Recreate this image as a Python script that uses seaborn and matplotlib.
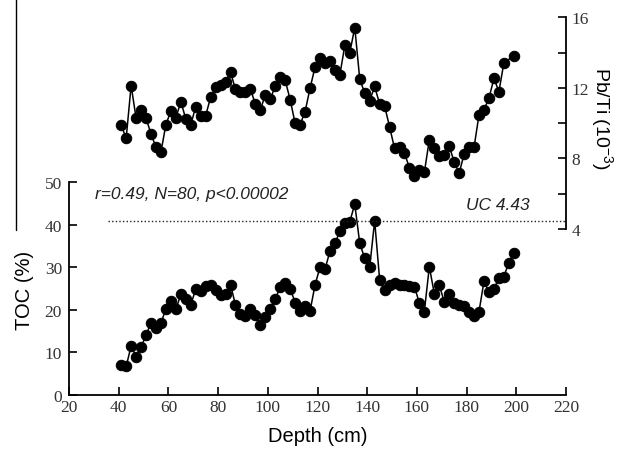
import matplotlib
matplotlib.use("Agg")
import matplotlib.pyplot as plt
from matplotlib.lines import Line2D
import seaborn as sns
import pandas as pd

# ---- data ----
depth_toc = [41, 43, 45, 47, 49, 51, 53, 55, 57, 59, 61, 63, 65, 67, 69, 71, 73, 75, 77, 79,
             81, 83, 85, 87, 89, 91, 93, 95, 97, 99, 101, 103, 105, 107, 109, 111, 113, 115, 117, 119,
             121, 123, 125, 127, 129, 131, 133, 135, 137, 139, 141, 143, 145, 147, 149, 151, 153, 155, 157, 159,
             161, 163, 165, 167, 169, 171, 173, 175, 177, 179, 181, 183, 185, 187, 189, 191, 193, 195, 197, 199]
toc = [7.1, 6.7, 11.5, 9.0, 11.3, 14.0, 17.0, 15.7, 16.8, 20.3, 22.0, 20.1, 23.6, 22.5, 21.2, 24.8, 24.5, 25.6, 25.8, 24.7,
       23.4, 23.8, 25.9, 21.1, 19.1, 18.5, 20.2, 18.8, 16.5, 18.4, 20.1, 22.5, 25.4, 26.3, 25.0, 21.7, 19.8, 21.0, 19.7, 25.8,
       30.0, 29.5, 33.7, 35.6, 38.4, 40.3, 40.7, 44.8, 35.6, 32.1, 30.0, 40.9, 27.1, 24.6, 25.8, 26.2, 25.9, 25.8, 25.7, 25.4,
       21.6, 19.6, 30.1, 23.8, 25.8, 21.9, 23.6, 21.6, 21.2, 20.8, 19.6, 18.5, 19.6, 26.7, 24.2, 24.8, 27.5, 27.8, 31.1, 33.3]

depth_pbti = [41, 43, 45, 47, 49, 51, 53, 55, 57, 59, 61, 63, 65, 67, 69, 71, 73, 75, 77, 79,
              81, 83, 85, 87, 89, 91, 93, 95, 97, 99, 101, 103, 105, 107, 109, 111, 113, 115, 117, 119,
              121, 123, 125, 127, 129, 131, 133, 135, 137, 139, 141, 143, 145, 147, 149, 151, 153, 155, 157, 159,
              161, 163, 165, 167, 169, 171, 173, 175, 177, 179, 181, 183, 185, 187, 189, 191, 193, 195, 199]
pbti = [9.90, 9.13, 12.13, 10.29, 10.77, 10.28, 9.39, 8.63, 8.37, 9.92, 10.69, 10.29, 11.22, 10.24, 9.90, 10.94, 10.42, 10.42, 11.48, 12.03,
        12.16, 12.36, 12.88, 11.92, 11.75, 11.75, 11.96, 11.06, 10.76, 11.60, 11.35, 12.12, 12.60, 12.43, 11.33, 9.99, 9.92, 10.65, 11.98, 13.17,
        13.72, 13.39, 13.51, 13.04, 12.74, 14.41, 14.00, 15.42, 12.50, 11.70, 11.27, 12.08, 11.09, 10.97, 9.80, 8.57, 8.63, 8.30, 7.47, 6.98,
        7.36, 7.21, 9.06, 8.61, 8.11, 8.18, 8.69, 7.82, 7.16, 8.25, 8.67, 8.63, 10.48, 10.76, 11.41, 12.54, 11.79, 13.41, 13.82]

uc_value = 4.43
x_ticks = [20, 40, 60, 80, 100, 120, 140, 160, 180, 200, 220]
toc_ticks = [0, 10, 20, 30, 40, 50]
pbti_ticks = [4, 8, 12, 16]
pbti_minor = [6, 10, 14]
stats_text = "r=0.49, N=80, p<0.00002"

# ---- style ----
sns.set_theme(style="ticks")
plt.rcParams['font.family'] = ['Liberation Sans', 'DejaVu Sans']
plt.rcParams['mathtext.fontset'] = 'custom'
plt.rcParams['mathtext.rm'] = 'Liberation Sans'
plt.rcParams['mathtext.it'] = 'Liberation Sans:italic'

W, H = 617, 452
fig = plt.figure(figsize=(W / 100, H / 100), dpi=100)
fig.patch.set_facecolor('white')

L, R = 69 / W, 566 / W
ax1 = fig.add_axes([L, (H - 396) / H, R - L, (396 - 183) / H])
ax2 = fig.add_axes([L, (H - 230) / H, R - L, (230 - 18.3) / H])
ax2.patch.set_alpha(0)

df_toc = pd.DataFrame({"Depth": depth_toc, "TOC": toc})
df_pb = pd.DataFrame({"Depth": depth_pbti, "PbTi": pbti})

line_kw = dict(color='black', marker='o', markersize=7.5, markeredgecolor='black',
               markerfacecolor='black', linewidth=1.1, estimator=None, sort=False)
sns.lineplot(data=df_toc, x="Depth", y="TOC", ax=ax1, **line_kw)
sns.lineplot(data=df_pb, x="Depth", y="PbTi", ax=ax2, **line_kw)

tick_font = dict(family=['Liberation Serif', 'DejaVu Serif'], size=12.5)
tick_color = '#333333'

# bottom axes
ax1.set_xlim(20, 220)
ax1.set_ylim(0, 50)
ax1.set_xticks(x_ticks)
ax1.set_yticks(toc_ticks)
ax1.set_xticklabels([str(v) for v in x_ticks], fontdict=tick_font, color=tick_color)
ax1.set_yticklabels([str(v) for v in toc_ticks], fontdict=tick_font, color=tick_color)
ax1.tick_params(axis='both', direction='in', length=6, width=1.2, color='black')
ax1.tick_params(axis='x', pad=3)
ax1.tick_params(axis='y', pad=5)
for s in ['top', 'right']:
    ax1.spines[s].set_visible(False)
for s in ['left', 'bottom']:
    ax1.spines[s].set_linewidth(1.3)
    ax1.spines[s].set_color('black')
ax1.set_xlabel("")
ax1.set_ylabel("")

# top axes (Pb/Ti) with right spine only
ax2.set_xlim(20, 220)
ax2.set_ylim(4, 16)
ax2.set_xticks([])
ax2.yaxis.tick_right()
ax2.set_yticks(pbti_ticks)
ax2.set_yticks(pbti_minor, minor=True)
ax2.set_yticklabels([str(v) for v in pbti_ticks], fontdict=tick_font, color=tick_color)
ax2.tick_params(axis='y', which='both', direction='in', length=6, width=1.2, color='black', pad=4)
for s in ['top', 'left', 'bottom']:
    ax2.spines[s].set_visible(False)
ax2.spines['right'].set_linewidth(1.3)
ax2.spines['right'].set_color('black')
ax2.set_xlabel("")
ax2.set_ylabel("")

# UC dotted line
ax2.hlines(uc_value, 35.5, 220, colors='#222222', linestyles=(0, (1, 1.6)), linewidth=1.0, clip_on=False)

# annotations
ax1.text(30.5, 47.3, stats_text, fontsize=12.5, style='italic', ha='left', va='center', color='#222222')
ax1.text(205.5, 44.7, "UC 4.43", fontsize=12.5, style='italic', ha='right', va='center', color='#222222')

# axis titles
fig.text(24 / W, 1 - 290 / H, "TOC (%)", rotation=90, ha='center', va='center', fontsize=14.5, color='black')
fig.text(318 / W, 1 - 437 / H, "Depth (cm)", ha='center', va='center', fontsize=14.5, color='black')
fig.text(602 / W, 1 - 118 / H, "Pb/Ti (10$^{-3}$)", rotation=270, ha='center', va='center', fontsize=14, color='black')

# stray vertical line at top-left
fig.add_artist(Line2D([16 / W, 16 / W], [1.0, 1 - 231 / H], color='black', linewidth=1.0))

fig.savefig("out.png", dpi=100, facecolor='white')
